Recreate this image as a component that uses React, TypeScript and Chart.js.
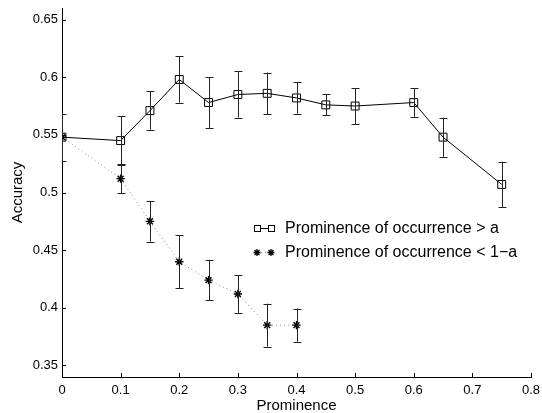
import React, { useEffect, useRef } from "react";
import { Chart, registerables } from "chart.js";

Chart.register(...registerables);

const xAbove = [0, 0.1, 0.15, 0.2, 0.25, 0.3, 0.35, 0.4, 0.45, 0.5, 0.6, 0.65, 0.75];
const accAbove = [0.548, 0.545, 0.571, 0.598, 0.578, 0.585, 0.586, 0.582, 0.576, 0.575, 0.578, 0.548, 0.507];
const errAbove = [0.0205, 0.021, 0.0166, 0.020, 0.022, 0.020, 0.018, 0.0136, 0.009, 0.0156, 0.0123, 0.017, 0.0197];

const xBelow = [0, 0.1, 0.15, 0.2, 0.25, 0.3, 0.35, 0.4];
const accBelow = [0.548, 0.512, 0.475, 0.440, 0.424, 0.412, 0.385, 0.385];
const errBelow = [0, 0.0124, 0.0176, 0.0228, 0.0176, 0.0164, 0.0186, 0.0144];

const xTicks = [0, 0.1, 0.2, 0.3, 0.4, 0.5, 0.6, 0.7, 0.8];
const yTicks = [0.35, 0.4, 0.45, 0.5, 0.55, 0.6, 0.65];

const legendLabels = ["Prominence of occurrence > a", "Prominence of occurrence < 1\u2212a"];

const FONT = "'Liberation Sans', Arial, Helvetica, sans-serif";

const errorBarPlugin = {
  id: "errorBars",
  afterDatasetsDraw(chart: any) {
    const ctx = chart.ctx;
    const xs = chart.scales.x;
    const ys = chart.scales.y;
    const area = chart.chartArea;
    const sets = [
      { x: xAbove, y: accAbove, e: errAbove },
      { x: xBelow, y: accBelow, e: errBelow },
    ];
    ctx.save();
    ctx.beginPath();
    ctx.rect(area.left, area.top, area.right - area.left, area.bottom - area.top);
    ctx.clip();
    ctx.strokeStyle = "#222";
    ctx.lineWidth = 1;
    sets.forEach((s) => {
      s.x.forEach((xv, i) => {
        if (!s.e[i]) return;
        const px = Math.round(xs.getPixelForValue(xv)) + 0.5;
        const top = ys.getPixelForValue(s.y[i] + s.e[i]);
        const bot = ys.getPixelForValue(s.y[i] - s.e[i]);
        ctx.beginPath();
        ctx.moveTo(px, top);
        ctx.lineTo(px, bot);
        ctx.moveTo(px - 4, Math.round(top) + 0.5);
        ctx.lineTo(px + 4, Math.round(top) + 0.5);
        ctx.moveTo(px - 4, Math.round(bot) + 0.5);
        ctx.lineTo(px + 4, Math.round(bot) + 0.5);
        ctx.stroke();
      });
    });
    ctx.restore();
  },
  afterDraw(chart: any) {
    const ctx = chart.ctx;
    const xs = chart.scales.x;
    const ys = chart.scales.y;
    const area = chart.chartArea;
    ctx.save();
    ctx.strokeStyle = "#000";
    ctx.lineWidth = 1;
    ctx.beginPath();
    yTicks.forEach((v) => {
      const py = Math.round(ys.getPixelForValue(v)) + 0.5;
      ctx.moveTo(area.left, py);
      ctx.lineTo(area.left + 4, py);
    });
    xTicks.forEach((v) => {
      const px = Math.round(xs.getPixelForValue(v)) + 0.5;
      ctx.moveTo(px, area.bottom);
      ctx.lineTo(px, area.bottom - 4);
    });
    ctx.stroke();

    // legend
    const lx1 = 257;
    const lx2 = 271;
    const rows = [228, 252];
    ctx.beginPath();
    ctx.moveTo(lx1, rows[0] + 0.5);
    ctx.lineTo(lx2, rows[0] + 0.5);
    ctx.stroke();
    [lx1, lx2].forEach((cx) => {
      ctx.fillStyle = "#fff";
      ctx.fillRect(cx - 2.5, rows[0] - 2.5, 6, 6);
      ctx.strokeRect(cx - 2.5, rows[0] - 2.5, 6, 6);
    });
    ctx.save();
    ctx.strokeStyle = "#999";
    ctx.setLineDash([1, 3]);
    ctx.beginPath();
    ctx.moveTo(lx1, rows[1] + 0.5);
    ctx.lineTo(lx2, rows[1] + 0.5);
    ctx.stroke();
    ctx.restore();
    ctx.lineWidth = 1.3;
    [lx1, lx2].forEach((cx) => {
      const r = 3.5;
      const cy = rows[1] + 0.5;
      ctx.beginPath();
      ctx.moveTo(cx - r, cy);
      ctx.lineTo(cx + r, cy);
      ctx.moveTo(cx, cy - r);
      ctx.lineTo(cx, cy + r);
      const d = r * Math.SQRT1_2;
      ctx.moveTo(cx - d, cy - d);
      ctx.lineTo(cx + d, cy + d);
      ctx.moveTo(cx - d, cy + d);
      ctx.lineTo(cx + d, cy - d);
      ctx.stroke();
    });
    ctx.fillStyle = "#000";
    ctx.font = `16px ${FONT}`;
    ctx.textBaseline = "middle";
    ctx.textAlign = "left";
    legendLabels.forEach((t, i) => ctx.fillText(t, 285, rows[i] + 1));
    ctx.restore();
  },
};

export default function App() {
  const ref = useRef<HTMLCanvasElement>(null);
  useEffect(() => {
    if (!ref.current) return;
    const chart = new Chart(ref.current, {
      type: "line",
      data: {
        datasets: [
          {
            label: legendLabels[0],
            data: xAbove.map((x, i) => ({ x, y: accAbove[i] })),
            borderColor: "#000",
            borderWidth: 1,
            backgroundColor: "rgba(0,0,0,0)",
            pointStyle: "rect",
            pointRadius: 5.6,
            pointBorderColor: "#000",
            pointBorderWidth: 1,
            pointBackgroundColor: "rgba(0,0,0,0)",
            tension: 0,
          },
          {
            label: legendLabels[1],
            data: xBelow.map((x, i) => ({ x, y: accBelow[i] })),
            borderColor: "#888",
            borderWidth: 1,
            borderDash: [1, 3],
            backgroundColor: "rgba(0,0,0,0)",
            pointStyle: "star",
            pointRadius: 4.2,
            pointBorderColor: "#000",
            pointBorderWidth: 1.4,
            tension: 0,
          },
        ],
      },
      options: {
        responsive: false,
        animation: false,
        events: [],
        layout: { padding: { top: 8, right: 11, left: 0, bottom: 0 } },
        plugins: { legend: { display: false }, tooltip: { enabled: false } },
        scales: {
          x: {
            type: "linear",
            min: 0,
            max: 0.8,
            afterBuildTicks: (s: any) => {
              s.ticks = xTicks.map((v) => ({ value: v }));
            },
            afterFit: (s: any) => {
              s.height = 36;
              s.paddingLeft = 0;
              s.paddingRight = 0;
            },
            grid: { drawOnChartArea: false, drawTicks: false },
            border: { display: true, color: "#000", width: 1 },
            ticks: {
              color: "#000",
              font: { family: FONT, size: 13 },
              padding: 6,
              maxRotation: 0,
              callback: (v: any) => String(Math.round(Number(v) * 100) / 100),
            },
            title: {
              display: true,
              text: "Prominence",
              color: "#000",
              font: { family: FONT, size: 15, lineHeight: 1 },
              padding: { top: 0, bottom: 0 },
            },
          },
          y: {
            type: "linear",
            min: 0.34,
            max: 0.66,
            afterBuildTicks: (s: any) => {
              s.ticks = yTicks.map((v) => ({ value: v }));
            },
            afterFit: (s: any) => {
              s.width = 62;
              s.paddingTop = 0;
              s.paddingBottom = 0;
            },
            grid: { drawOnChartArea: false, drawTicks: false },
            border: { display: true, color: "#000", width: 1 },
            ticks: {
              color: "#000",
              font: { family: FONT, size: 13 },
              padding: 4,
              callback: (v: any) => String(Math.round(Number(v) * 100) / 100),
            },
            title: {
              display: true,
              text: "Accuracy",
              color: "#000",
              font: { family: FONT, size: 15, lineHeight: 1 },
              padding: { top: 10, bottom: 0 },
            },
          },
        },
      },
      plugins: [errorBarPlugin],
    } as any);
    return () => chart.destroy();
  }, []);
  return (
    <div style={{ position: "fixed", left: 0, top: 0, width: 542, height: 413, background: "#fff" }}>
      <canvas ref={ref} width={542} height={413} />
    </div>
  );
}
